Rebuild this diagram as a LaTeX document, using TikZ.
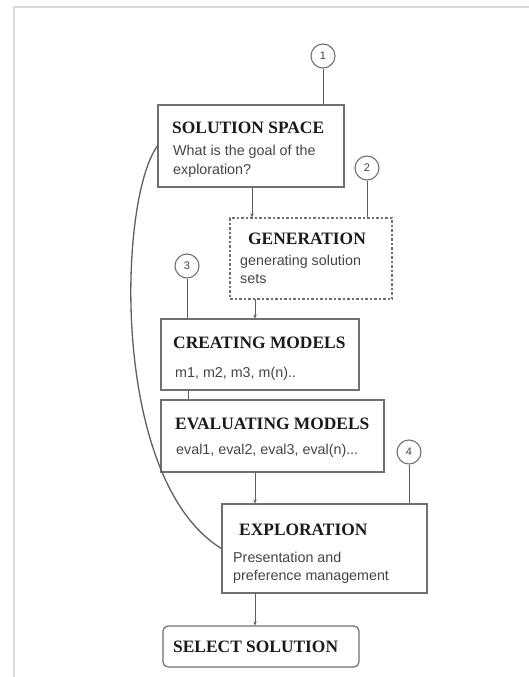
\documentclass[tikz,border=0pt]{standalone}
\usepackage{fontspec}
\setmainfont{Liberation Serif}
\newfontfamily\bodyfont{Liberation Sans}
\usetikzlibrary{arrows.meta}
\definecolor{framegray}{HTML}{DADADA}
\definecolor{boxgray}{HTML}{707070}
\definecolor{linegray}{HTML}{606060}
\definecolor{titlecol}{HTML}{1A1A1A}
\definecolor{bodycol}{HTML}{454545}
\tikzset{
  stagebox/.style={draw=boxgray, line width=1.2pt, fill=white, inner sep=0pt},
  dashbox/.style={stagebox, dash pattern=on 2.5pt off 2pt},
  roundbox/.style={stagebox, rounded corners=5pt},
  numcirc/.style={draw=boxgray, line width=1.1pt, circle, minimum size=24pt, inner sep=0pt, font=\bodyfont\fontsize{11}{13}\selectfont, text=bodycol},
  ttl/.style={anchor=base west, inner sep=0pt, font=\fontsize{17.4}{19}\selectfont\bfseries, text=titlecol},
  bdy/.style={anchor=base west, inner sep=0pt, font=\bodyfont\fontsize{14.3}{16}\selectfont, text=bodycol},
  conn/.style={draw=linegray, line width=1pt},
  arr/.style={conn, -{Stealth[length=4pt,width=3.5pt]}}
}
\begin{document}
\begin{tikzpicture}[x=1pt,y=1pt]
\useasboundingbox (0,0) rectangle (529,-677);
\fill[white] (0,0) rectangle (529,-677);
% frame
\draw[framegray, line width=2pt] (14,-677) -- (14,-7) -- (529,-7);

% boxes
\node[stagebox, minimum width=186pt, minimum height=82pt] (ss) at (251,-146) {};
\node[dashbox, minimum width=162pt, minimum height=81pt] (gen) at (311,-258.5) {};
\node[stagebox, minimum width=198pt, minimum height=71pt] (cm) at (260,-354.5) {};
\node[stagebox, minimum width=223pt, minimum height=72pt] (em) at (272.5,-436) {};
\node[stagebox, minimum width=205pt, minimum height=89pt] (exp) at (324.5,-548.5) {};
\node[roundbox, minimum width=196pt, minimum height=41pt] (sel) at (261,-646.5) {};

% texts
\node[ttl] (ssT) at (172,-133) {SOLUTION SPACE};
\node[bdy] (ssB1) at (173,-155) {What is the goal of the};
\node[bdy] (ssB2) at (173,-174) {exploration?};

\node[ttl] (genT) at (248,-244) {GENERATION};
\node[bdy] (genB1) at (240,-265) {generating solution};
\node[bdy] (genB2) at (240,-283) {sets};

\node[ttl] (cmT) at (173,-348) {CREATING MODELS};
\node[bdy] (cmB) at (175,-377) {m1, m2, m3, m(n)..};

\node[ttl] (emT) at (175,-429) {EVALUATING MODELS};
\node[bdy] (emB) at (176,-454) {eval1, eval2, eval3, eval(n)...};

\node[ttl] (expT) at (239,-535) {EXPLORATION};
\node[bdy] (expB1) at (233,-562) {Presentation and};
\node[bdy] (expB2) at (233,-580) {preference management};

\node[ttl] (selT) at (173,-652) {SELECT SOLUTION};

% numbered circles
\node[numcirc] (c1) at (323,-56) {1};
\node[numcirc] (c2) at (367,-168) {2};
\node[numcirc] (c3) at (187,-266) {3};
\node[numcirc] (c4) at (409,-452) {4};

\draw[conn] (c1.south) -- (c1.south |- ss.north);
\draw[conn] (c2.south) -- (c2.south |- gen.north);
\draw[conn] (c3.south) -- (c3.south |- cm.north);
\draw[conn] (c4.south) -- (c4.south |- exp.north);

% flow connectors
\draw[arr] (252,-187) coordinate (a1) -- (a1 |- gen.north);
\draw[arr] (255,-299) coordinate (a2) -- (a2 |- cm.north);
\draw[conn] (188,-390) coordinate (a3) -- (a3 |- em.north);
\draw[arr] (255,-472) coordinate (a4) -- (a4 |- exp.north);
\draw[arr] (255,-593) coordinate (a5) -- (a5 |- sel.north);

% feedback curve
\draw[conn, line width=1.3pt] (ss.west) .. controls (118,-200) and (110,-480) .. (exp.west);
\end{tikzpicture}
\end{document}
